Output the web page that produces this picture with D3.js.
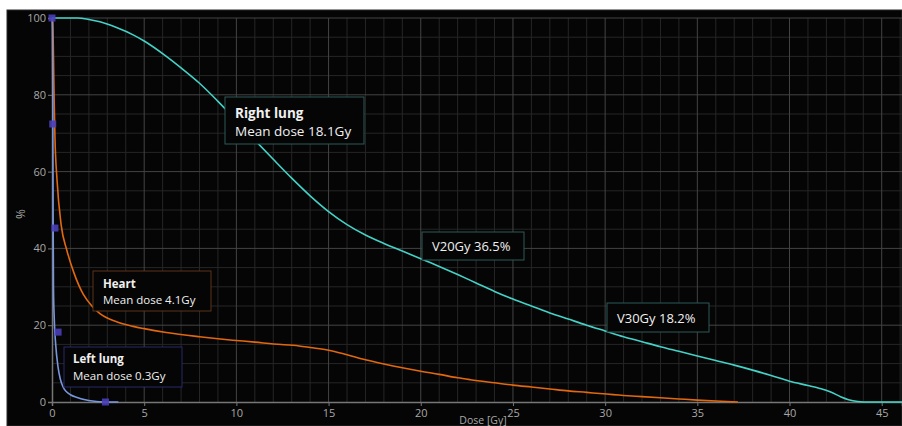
<!DOCTYPE html>
<html>
<head>
<meta charset="utf-8">
<script src="https://cdn.jsdelivr.net/npm/d3@7"></script>
<style>
  html, body { margin: 0; padding: 0; background: #ffffff; }
  svg { display: block; font-family: "Open Sans", "Noto Sans", sans-serif; }
</style>
</head>
<body>
<div class="chart"></div>
<script>
// dose-volume histogram data (dose in Gy, volume in %)
const rightLungDose = [0, 1, 1.4, 2, 2.6, 3.5, 4.4, 5, 6.2, 7, 8, 9, 10, 11, 12, 13, 14, 15, 16, 17, 18, 19, 20, 21, 22, 23, 24, 25, 26, 27, 28, 29, 30, 31, 32, 33, 34, 35, 36, 37, 38, 39, 40, 41, 41.6, 42.2, 42.8, 43.2, 43.7, 44.3, 46.1];
const rightLungVol = [100, 100, 100, 99.6, 99, 97.5, 95.6, 94, 90, 87, 83, 78.3, 73.3, 68.2, 63.2, 58.3, 53.7, 49.6, 46.2, 43.5, 41.3, 39.3, 37.3, 35.3, 33.2, 31, 28.8, 26.8, 25, 23.2, 21.6, 20, 18.5, 17, 15.7, 14.4, 13.2, 12, 10.8, 9.6, 8.3, 6.9, 5.4, 4.3, 3.6, 2.7, 1.3, 0.6, 0.15, 0, 0];

const heartDose = [0, 0.04, 0.08, 0.12, 0.16, 0.27, 0.5, 0.8, 1.2, 1.7, 2.2, 2.6, 3.5, 4.4, 5, 6.2, 8, 9.8, 11, 12, 13.4, 14, 15, 16, 17, 18, 19, 20, 21, 22, 22.7, 24, 25, 26, 27, 28, 29, 29.7, 31, 32, 33, 34, 35, 36, 37.2];
const heartVol = [100, 99, 90, 78, 69, 58, 46, 39.6, 33.5, 28, 24.8, 23, 20.9, 19.7, 19.1, 18.1, 17, 16.1, 15.6, 15.1, 14.6, 14.2, 13.5, 12.3, 11, 9.9, 8.9, 8, 7.2, 6.3, 5.8, 5, 4.4, 3.9, 3.4, 2.9, 2.5, 2.2, 1.7, 1.4, 1.1, 0.8, 0.5, 0.25, 0];

const leftLungDose = [0, 0.02, 0.04, 0.06, 0.08, 0.12, 0.2, 0.33, 0.45, 0.6, 0.8, 1.0, 1.36, 1.8, 2.2, 2.6, 3.6];
const leftLungVol = [100, 97, 80, 50, 30, 22, 15, 9, 6, 3.9, 2.6, 1.9, 1.2, 0.6, 0.25, 0.08, 0];

const markerDose = [0, 0.04, 0.16, 0.33, 2.9];
const markerVol = [100, 72.4, 45.3, 18.2, 0];

const xTicks = [0, 5, 10, 15, 20, 25, 30, 35, 40, 45];
const yTicks = [0, 20, 40, 60, 80, 100];

const W = 902, H = 426;
const margin = { top: 18, right: 0, bottom: 24, left: 52 };

const svg = d3.select('.chart').append('svg')
  .attr('width', W)
  .attr('height', H);

// dark panel
svg.append('rect')
  .attr('x', 7).attr('y', 10)
  .attr('width', W - 7).attr('height', H - 10)
  .attr('fill', '#050505')
  .attr('stroke', '#2a2a2a');

const x = d3.scaleLinear().domain([0, 46.1]).range([margin.left, W - margin.right]);
const y = d3.scaleLinear().domain([0, 100]).range([H - margin.bottom, margin.top]);

// grid - minor every 1 Gy / 5 %, major every 5 Gy / 20 %
const minorX = d3.range(1, 47).filter(d => d % 5 !== 0);
const majorX = d3.range(5, 47, 5);
const minorY = d3.range(5, 101, 5).filter(d => d % 20 !== 0);
const majorY = d3.range(20, 101, 20);

const grid = svg.append('g');
grid.selectAll('.vx').data(minorX).enter().append('line')
  .attr('x1', d => x(d)).attr('x2', d => x(d))
  .attr('y1', y(100)).attr('y2', y(0))
  .attr('stroke', '#262626').attr('stroke-width', 1);
grid.selectAll('.hy').data(minorY).enter().append('line')
  .attr('x1', x(0)).attr('x2', W)
  .attr('y1', d => y(d)).attr('y2', d => y(d))
  .attr('stroke', '#262626').attr('stroke-width', 1);
grid.selectAll('.vX').data(majorX).enter().append('line')
  .attr('x1', d => x(d)).attr('x2', d => x(d))
  .attr('y1', y(100)).attr('y2', y(0))
  .attr('stroke', '#444').attr('stroke-width', 1);
grid.selectAll('.hY').data(majorY).enter().append('line')
  .attr('x1', x(0)).attr('x2', W)
  .attr('y1', d => y(d)).attr('y2', d => y(d))
  .attr('stroke', '#444').attr('stroke-width', 1);

// axes
const xAxis = svg.append('g')
  .attr('transform', `translate(0,${y(0)})`)
  .call(d3.axisBottom(x).tickValues(xTicks).tickSize(4).tickPadding(3));
const yAxis = svg.append('g')
  .attr('transform', `translate(${x(0)},0)`)
  .call(d3.axisLeft(y).tickValues(yTicks).tickSize(4).tickPadding(2));
[xAxis, yAxis].forEach(a => {
  a.select('.domain').attr('stroke', '#777').attr('stroke-width', 1.5);
  a.selectAll('.tick line').attr('stroke', '#777');
  a.selectAll('text').attr('fill', '#a8a8a8').style('font-size', '11px')
    .style('font-family', '"Open Sans", sans-serif');
});

// axis labels
svg.append('text')
  .attr('x', 483).attr('y', 424)
  .attr('text-anchor', 'middle')
  .attr('fill', '#a8a8a8')
  .style('font-size', '10.5px')
  .text('Dose [Gy]');
svg.append('text')
  .attr('transform', 'translate(25,214) rotate(-90)')
  .attr('text-anchor', 'middle')
  .attr('fill', '#a8a8a8')
  .style('font-size', '12px')
  .text('%');

// curves
const line = d3.line()
  .x(d => x(d[0]))
  .y(d => y(d[1]))
  .curve(d3.curveMonotoneX);

const series = [
  { dose: heartDose, vol: heartVol, color: '#e2680f' },
  { dose: rightLungDose, vol: rightLungVol, color: '#45d2c6' },
  { dose: leftLungDose, vol: leftLungVol, color: '#7896dc' }
];
series.forEach(s => {
  svg.append('path')
    .datum(d3.zip(s.dose, s.vol))
    .attr('d', line)
    .attr('fill', 'none')
    .attr('stroke', s.color)
    .attr('stroke-width', 1.6);
});

// markers on left lung
svg.selectAll('.marker')
  .data(d3.zip(markerDose, markerVol))
  .enter().append('rect')
  .attr('class', 'marker')
  .attr('x', d => x(d[0]) - 3.5)
  .attr('y', d => y(d[1]) - 3.5)
  .attr('width', 7).attr('height', 7)
  .attr('fill', '#4a3fb8')
  .attr('opacity', 0.9);

// annotation boxes
function box(bx, by, bw, bh, stroke, lines) {
  const g = svg.append('g');
  g.append('rect')
    .attr('x', bx).attr('y', by)
    .attr('width', bw).attr('height', bh)
    .attr('fill', '#050505')
    .attr('stroke', stroke)
    .attr('stroke-width', 1);
  lines.forEach(l => {
    g.append('text')
      .attr('x', bx + l.dx).attr('y', by + l.dy)
      .attr('fill', '#f0f0f0')
      .style('font-size', l.size + 'px')
      .style('font-weight', l.bold ? 'bold' : 'normal')
      .text(l.text);
  });
}

box(225, 97, 139, 47, '#2f5a56', [
  { text: 'Right lung', dx: 10, dy: 21, size: 13.5, bold: true },
  { text: 'Mean dose 18.1Gy', dx: 10, dy: 39, size: 13.5 }
]);
box(93, 271, 118, 40, '#5a3418', [
  { text: 'Heart', dx: 10, dy: 17, size: 11.5, bold: true },
  { text: 'Mean dose 4.1Gy', dx: 10, dy: 33, size: 11.5 }
]);
box(64, 347, 118, 40, '#28286a', [
  { text: 'Left lung', dx: 9, dy: 16, size: 11.5, bold: true },
  { text: 'Mean dose 0.3Gy', dx: 9, dy: 33, size: 11.5 }
]);
box(422, 232, 102, 28, '#2f5a56', [
  { text: 'V20Gy 36.5%', dx: 10, dy: 19, size: 13 }
]);
box(607, 303, 102, 29, '#2f5a56', [
  { text: 'V30Gy 18.2%', dx: 10, dy: 20, size: 13 }
]);
</script>
</body>
</html>
